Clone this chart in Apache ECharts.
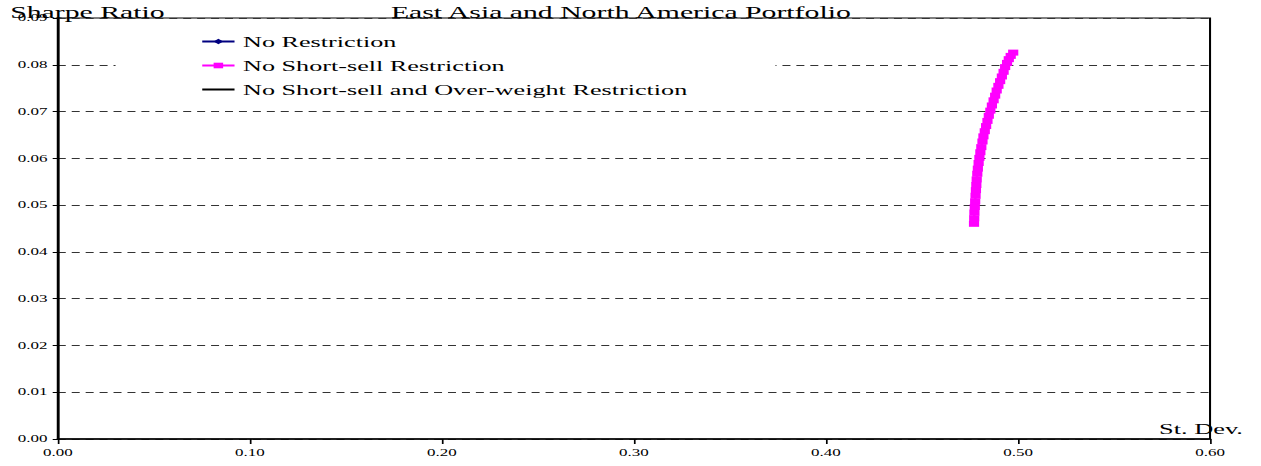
<!DOCTYPE html>
<html>
<head>
<meta charset="utf-8">
<script src="https://cdn.jsdelivr.net/npm/echarts@6/dist/echarts.min.js"></script>
<style>
html, body { margin: 0; padding: 0; background: #fff; overflow: hidden; }
/* the original picture is a horizontally stretched spreadsheet chart,
   so draw it narrow and stretch the whole thing */
#main { width: 742px; height: 466px; transform: scaleX(1.6995); transform-origin: 0 0; }
</style>
</head>
<body>
<div id="main"></div>
<script>
var chart = echarts.init(document.getElementById("main"), null, { renderer: 'svg' });

// series names (legend)
var series_names = ["No Restriction", "No Short-sell Restriction", "No Short-sell and Over-weight Restriction"];
// x = St. Dev., y = Sharpe Ratio
var no_restriction = [];   // nothing drawn inside the plot for this one
var no_short_std = [0.4771, 0.4772, 0.4773, 0.4775, 0.4777, 0.4779, 0.4781, 0.4783, 0.4785, 0.4788,
                    0.4791, 0.4795, 0.4799, 0.4804, 0.4809, 0.4815, 0.4820, 0.4827, 0.4834, 0.4841,
                    0.4848, 0.4856, 0.4864, 0.4873, 0.4881, 0.4889, 0.4898, 0.4907, 0.4916, 0.4925,
                    0.4933, 0.4943, 0.4952, 0.4962, 0.4975];
var no_short_sharpe = [0.0460, 0.0472, 0.0484, 0.0496, 0.0508, 0.0520, 0.0532, 0.0543, 0.0555, 0.0567,
                       0.0578, 0.0590, 0.0601, 0.0613, 0.0624, 0.0636, 0.0647, 0.0658, 0.0669, 0.0680,
                       0.0691, 0.0702, 0.0713, 0.0724, 0.0734, 0.0745, 0.0755, 0.0765, 0.0775, 0.0785,
                       0.0795, 0.0804, 0.0812, 0.0819, 0.0826];
var no_short_overweight = [];

var font = "Liberation Serif";

var no_short = [];
for (var i = 0; i < no_short_std.length; i++) {
    no_short.push([no_short_std[i], no_short_sharpe[i]]);
}

var option = {
    animation: false,
    textStyle: { fontFamily: font },
    grid: {
        left: 34, right: 30, top: 18, bottom: 27,
        show: true,
        borderColor: '#000',
        borderWidth: 1.2
    },
    graphic: [
        { type: 'text', left: 6, top: 3, z: 100,
          style: { text: 'Sharpe Ratio', font: '17.5px "Liberation Serif"', fill: '#000' } },
        { type: 'text', left: 230, top: 3, z: 100,
          style: { text: 'East Asia and North America Portfolio', font: '17.5px "Liberation Serif"', fill: '#000' } },
        { type: 'text', left: 682, top: 421, z: 100,
          style: { text: 'St. Dev.', font: '15.5px "Liberation Serif"', fill: '#000' } }
    ],
    legend: {
        orient: 'vertical',
        left: 68,
        top: 28,
        padding: [6, 52, 4, 50],
        backgroundColor: '#fff',
        itemWidth: 19,
        itemHeight: 7,
        itemGap: 9,
        textStyle: { fontFamily: font, fontSize: 15.4, color: '#000' },
        data: [
            { name: series_names[0] },
            { name: series_names[1] },
            { name: series_names[2], itemStyle: { opacity: 0 } }
        ]
    },
    xAxis: {
        type: 'value',
        min: 0, max: 0.6, interval: 0.1,
        axisLine: { onZero: false, lineStyle: { color: '#000', width: 1.5 } },
        axisTick: { show: true, length: 5, lineStyle: { color: '#000' } },
        axisLabel: { formatter: function (v) { return v.toFixed(2); },
                     fontFamily: font, fontSize: 10, color: '#000', margin: 9 },
        splitLine: { show: false }
    },
    yAxis: {
        type: 'value',
        min: 0, max: 0.09, interval: 0.01,
        axisLine: { show: true, onZero: false, lineStyle: { color: '#000', width: 1.2 } },
        axisTick: { show: true, length: 3, lineStyle: { color: '#000' } },
        axisLabel: { formatter: function (v) { return v.toFixed(2); },
                     fontFamily: font, fontSize: 10, color: '#000', margin: 6 },
        splitLine: { show: true, lineStyle: { color: '#333', type: [4.7, 3.5], width: 1 } }
    },
    series: [
        {
            name: series_names[0], type: 'line', data: no_restriction,
            symbol: 'diamond', symbolSize: 5,
            itemStyle: { color: '#000080' }, lineStyle: { color: '#000080', width: 1 }
        },
        {
            name: series_names[1], type: 'line', data: no_short,
            symbol: 'rect', symbolSize: 6, showAllSymbol: true,
            itemStyle: { color: '#ff00ff' }, lineStyle: { color: '#ff00ff', width: 1.5 }
        },
        {
            name: series_names[2], type: 'line', data: no_short_overweight,
            symbol: 'none',
            itemStyle: { color: '#000' }, lineStyle: { color: '#000', width: 2 }
        }
    ]
};
chart.setOption(option);
</script>
</body>
</html>
